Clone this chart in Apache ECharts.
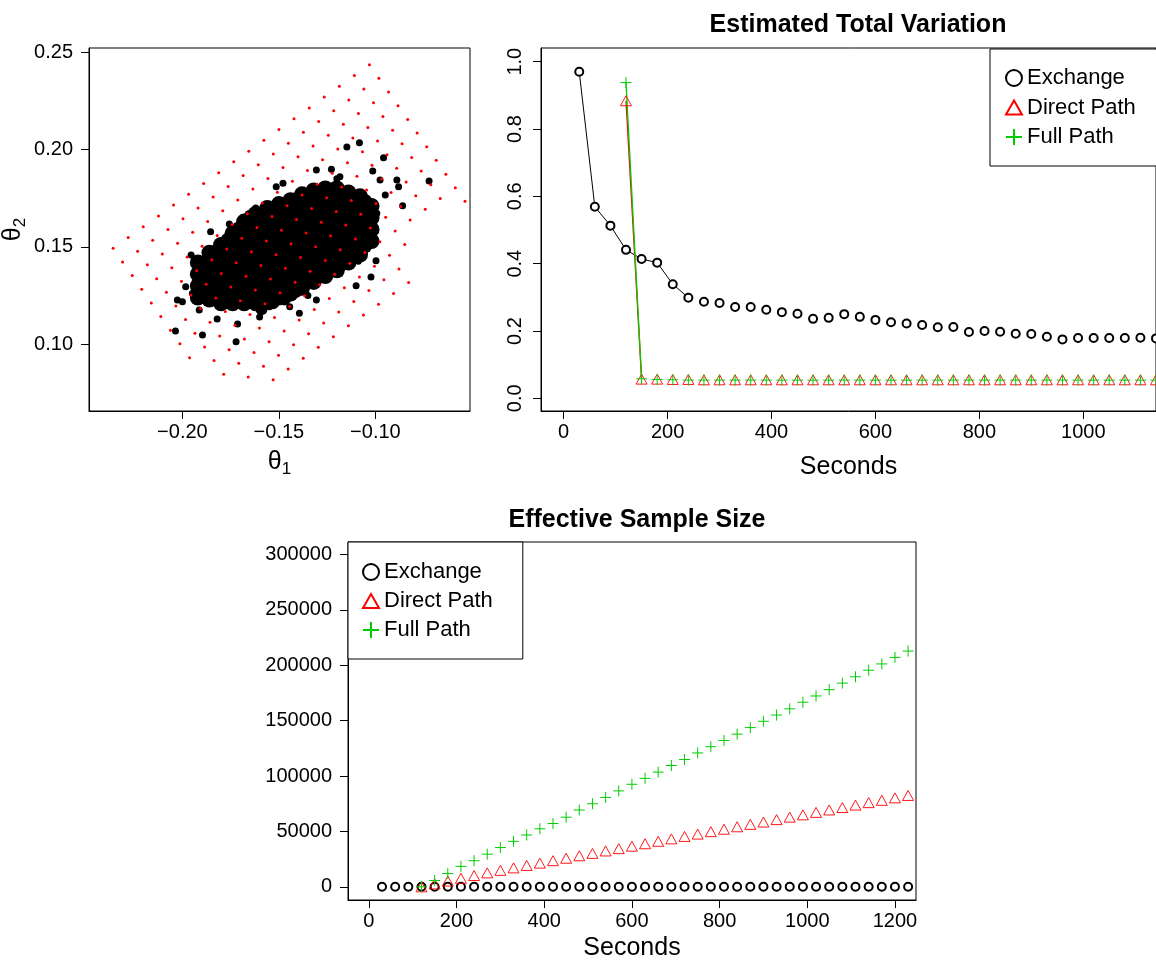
<!DOCTYPE html>
<html><head><meta charset="utf-8">
<script src="https://cdn.jsdelivr.net/npm/echarts@6/dist/echarts.min.js"></script>
<style>html,body{margin:0;padding:0;background:#fff}#c{width:1156px;height:962px}</style>
</head><body><div id="c"></div>
<script>
// ---------- scatter panel data ----------
// dense core of posterior samples (columns by theta1, list of theta2)
const coreX = [-0.192,-0.186,-0.180,-0.174,-0.168,-0.162,-0.156,-0.150,-0.144,-0.138,-0.132,-0.126,-0.120,-0.114,-0.108,-0.102];
const coreY = [
 [0.124,0.130,0.136,0.142],
 [0.123,0.129,0.135,0.141,0.147],
 [0.121,0.127,0.133,0.139,0.145,0.151],
 [0.121,0.127,0.133,0.139,0.145,0.151,0.157],
 [0.121,0.127,0.133,0.139,0.145,0.151,0.157,0.163],
 [0.121,0.127,0.133,0.139,0.145,0.151,0.157,0.163,0.167],
 [0.122,0.128,0.134,0.140,0.146,0.152,0.158,0.164,0.170],
 [0.124,0.130,0.136,0.142,0.148,0.154,0.160,0.166,0.172],
 [0.126,0.132,0.138,0.144,0.150,0.156,0.162,0.168,0.174],
 [0.129,0.135,0.141,0.147,0.153,0.159,0.165,0.171,0.177],
 [0.132,0.138,0.144,0.150,0.156,0.162,0.168,0.174,0.179],
 [0.135,0.141,0.147,0.153,0.159,0.165,0.171,0.177,0.180],
 [0.138,0.144,0.150,0.156,0.162,0.168,0.174,0.180],
 [0.142,0.148,0.154,0.160,0.166,0.172,0.178],
 [0.146,0.152,0.158,0.164,0.170,0.176],
 [0.153,0.159,0.165,0.171]
];
// samples filling gaps between the core columns
const fillSamples = [
 [-0.189,0.127],[-0.189,0.133],[-0.189,0.139],[-0.183,0.124],[-0.183,0.130],[-0.183,0.136],[-0.183,0.142],[-0.183,0.148],
 [-0.177,0.124],[-0.177,0.130],[-0.177,0.136],[-0.177,0.142],[-0.177,0.148],[-0.177,0.154],
 [-0.171,0.124],[-0.171,0.130],[-0.171,0.136],[-0.171,0.142],[-0.171,0.148],[-0.171,0.154],[-0.171,0.160],
 [-0.165,0.124],[-0.165,0.130],[-0.165,0.136],[-0.165,0.142],[-0.165,0.148],[-0.165,0.154],[-0.165,0.160],[-0.165,0.166],
 [-0.159,0.118],[-0.159,0.124],[-0.159,0.130],[-0.159,0.136],[-0.159,0.142],[-0.159,0.148],[-0.159,0.154],[-0.159,0.160],[-0.159,0.166],
 [-0.153,0.121],[-0.153,0.127],[-0.153,0.133],[-0.153,0.139],[-0.153,0.145],[-0.153,0.151],[-0.153,0.157],[-0.153,0.163],[-0.153,0.169],
 [-0.147,0.123],[-0.147,0.129],[-0.147,0.135],[-0.147,0.141],[-0.147,0.147],[-0.147,0.153],[-0.147,0.159],[-0.147,0.165],[-0.147,0.171],
 [-0.141,0.127],[-0.141,0.133],[-0.141,0.139],[-0.141,0.145],[-0.141,0.151],[-0.141,0.157],[-0.141,0.163],[-0.141,0.169],[-0.141,0.175],
 [-0.135,0.132],[-0.135,0.138],[-0.135,0.144],[-0.135,0.150],[-0.135,0.156],[-0.135,0.162],[-0.135,0.168],[-0.135,0.174],
 [-0.129,0.135],[-0.129,0.141],[-0.129,0.147],[-0.129,0.153],[-0.129,0.159],[-0.129,0.165],[-0.129,0.171],[-0.129,0.177],
 [-0.123,0.138],[-0.123,0.144],[-0.123,0.150],[-0.123,0.156],[-0.123,0.162],[-0.123,0.168],[-0.123,0.174],[-0.123,0.180],
 [-0.117,0.141],[-0.117,0.147],[-0.117,0.153],[-0.117,0.159],[-0.117,0.165],[-0.117,0.171],[-0.117,0.177],
 [-0.111,0.145],[-0.111,0.151],[-0.111,0.157],[-0.111,0.163],[-0.111,0.169],[-0.111,0.175],
 [-0.105,0.150],[-0.105,0.156],[-0.105,0.162],[-0.105,0.168],[-0.105,0.174]
];
// outlying samples
const edgeSamples = [
 [-0.2036,0.1068],[-0.1896,0.1047],[-0.1722,0.1013],[-0.1714,0.1104],[-0.1148,0.2013],[-0.1083,0.2035],
 [-0.0958,0.1958],[-0.0722,0.1839],[-0.0859,0.1712],[-0.0880,0.1809],[-0.1023,0.1345],[-0.0997,0.1429],
 [-0.1089,0.1427],[-0.1394,0.1159],[-0.1444,0.1193],[-0.1955,0.1458],[-0.2000,0.1218],[-0.2026,0.1227],
 [-0.1854,0.1578],[-0.1757,0.1618],[-0.1514,0.1809],[-0.1306,0.1895],[-0.1228,0.1899],[-0.1014,0.1890],
 [-0.0889,0.1844],[-0.0949,0.1767],[-0.1948,0.1262],[-0.1983,0.1296],[-0.1913,0.1176],[-0.1549,0.1193],
 [-0.1306,0.1227],[-0.1184,0.1364],[-0.1097,0.1467],[-0.0993,0.1673],[-0.0976,0.1844],[-0.1184,0.1861],
 [-0.1479,0.1827],[-0.1653,0.1638],[-0.1740,0.1570],[-0.1820,0.1130],[-0.1600,0.1140],[-0.1350,0.1250],
 [-0.1050,0.1600],[-0.1200,0.1850],[-0.1400,0.1780],[-0.1900,0.1420],[-0.1620,0.1700],[-0.1100,0.1300]
];
// red grid points (rows)
const redX = [
 [-0.1031,-0.0982,-0.0932,-0.0883,-0.0833,-0.0784,-0.0734,-0.0685,-0.0635,-0.0586,-0.0536],
 [-0.1109,-0.1060,-0.1010,-0.0961,-0.0911,-0.0862,-0.0812,-0.0763,-0.0713,-0.0664],
 [-0.1187,-0.1138,-0.1088,-0.1039,-0.0989,-0.0940,-0.0890,-0.0841,-0.0791,-0.0742],
 [-0.1265,-0.1216,-0.1166,-0.1117,-0.1067,-0.1018,-0.0968,-0.0919,-0.0869,-0.0820],
 [-0.1343,-0.1294,-0.1244,-0.1195,-0.1145,-0.1096,-0.1046,-0.0997,-0.0947,-0.0898,-0.0848],
 [-0.1422,-0.1373,-0.1323,-0.1274,-0.1224,-0.1175,-0.1125,-0.1076,-0.1026,-0.0977,-0.0927,-0.0878,-0.0828],
 [-0.1500,-0.1451,-0.1401,-0.1352,-0.1302,-0.1253,-0.1203,-0.1154,-0.1104,-0.1055,-0.1005,-0.0956,-0.0906],
 [-0.1578,-0.1529,-0.1479,-0.1430,-0.1380,-0.1331,-0.1281,-0.1232,-0.1182,-0.1133,-0.1083,-0.1034,-0.0984],
 [-0.1656,-0.1607,-0.1557,-0.1508,-0.1458,-0.1409,-0.1359,-0.1310,-0.1260,-0.1211,-0.1161,-0.1112,-0.1062],
 [-0.1734,-0.1685,-0.1635,-0.1586,-0.1536,-0.1487,-0.1437,-0.1388,-0.1338,-0.1289,-0.1239,-0.1190,-0.1140],
 [-0.1812,-0.1763,-0.1713,-0.1664,-0.1614,-0.1565,-0.1515,-0.1466,-0.1416,-0.1367,-0.1317,-0.1268,-0.1218],
 [-0.1890,-0.1841,-0.1791,-0.1742,-0.1692,-0.1643,-0.1593,-0.1544,-0.1494,-0.1445,-0.1395,-0.1346,-0.1296],
 [-0.1968,-0.1919,-0.1869,-0.1820,-0.1770,-0.1721,-0.1671,-0.1622,-0.1572,-0.1523,-0.1473,-0.1424,-0.1374],
 [-0.2046,-0.1997,-0.1947,-0.1898,-0.1848,-0.1799,-0.1749,-0.1700,-0.1650,-0.1601,-0.1551,-0.1502,-0.1452],
 [-0.2124,-0.2075,-0.2025,-0.1976,-0.1926,-0.1877,-0.1827,-0.1778,-0.1728,-0.1679,-0.1629,-0.1580,-0.1530],
 [-0.2203,-0.2154,-0.2104,-0.2055,-0.2005,-0.1956,-0.1906,-0.1857,-0.1807,-0.1758,-0.1708,-0.1659],
 [-0.2281,-0.2232,-0.2182,-0.2133,-0.2083,-0.2034,-0.1984,-0.1935,-0.1885,-0.1836,-0.1786],
 [-0.2359,-0.2310,-0.2260,-0.2211,-0.2161,-0.2112,-0.2062,-0.2013,-0.1963]
];
const redY = [
 [0.2436,0.2366,0.2296,0.2225,0.2155,0.2085,0.2015,0.1945,0.1874,0.1804,0.1734],
 [0.2381,0.2311,0.2241,0.2170,0.2100,0.2030,0.1960,0.1890,0.1819,0.1749],
 [0.2325,0.2255,0.2185,0.2114,0.2044,0.1974,0.1904,0.1834,0.1763,0.1693],
 [0.2270,0.2200,0.2130,0.2059,0.1989,0.1919,0.1849,0.1779,0.1708,0.1638],
 [0.2214,0.2144,0.2074,0.2003,0.1933,0.1863,0.1793,0.1723,0.1652,0.1582,0.1512],
 [0.2159,0.2089,0.2019,0.1948,0.1878,0.1808,0.1738,0.1668,0.1597,0.1527,0.1457,0.1387,0.1317],
 [0.2103,0.2033,0.1963,0.1892,0.1822,0.1752,0.1682,0.1612,0.1541,0.1471,0.1401,0.1331,0.1261],
 [0.2048,0.1978,0.1908,0.1837,0.1767,0.1697,0.1627,0.1557,0.1486,0.1416,0.1346,0.1276,0.1206],
 [0.1992,0.1922,0.1852,0.1781,0.1711,0.1641,0.1571,0.1501,0.1430,0.1360,0.1290,0.1220,0.1150],
 [0.1937,0.1867,0.1797,0.1726,0.1656,0.1586,0.1516,0.1446,0.1375,0.1305,0.1235,0.1165,0.1095],
 [0.1881,0.1811,0.1741,0.1670,0.1600,0.1530,0.1460,0.1390,0.1319,0.1249,0.1179,0.1109,0.1039],
 [0.1826,0.1756,0.1686,0.1615,0.1545,0.1475,0.1405,0.1335,0.1264,0.1194,0.1124,0.1054,0.0984],
 [0.1770,0.1700,0.1630,0.1559,0.1489,0.1419,0.1349,0.1279,0.1208,0.1138,0.1068,0.0998,0.0928],
 [0.1715,0.1645,0.1575,0.1504,0.1434,0.1364,0.1294,0.1224,0.1153,0.1083,0.1013,0.0943,0.0873],
 [0.1659,0.1589,0.1519,0.1448,0.1378,0.1308,0.1238,0.1168,0.1097,0.1027,0.0957,0.0887,0.0817],
 [0.1604,0.1534,0.1464,0.1393,0.1323,0.1253,0.1183,0.1113,0.1042,0.0972,0.0902,0.0832],
 [0.1548,0.1478,0.1408,0.1337,0.1267,0.1197,0.1127,0.1057,0.0986,0.0916,0.0846],
 [0.1493,0.1423,0.1353,0.1282,0.1212,0.1142,0.1072,0.1002,0.0931]
];
const scatXTicks = [-0.20,-0.15,-0.10,-0.05];
const scatYTicks = [0.10,0.15,0.20,0.25];

// ---------- time series data ----------
const exchSeconds = [30,60,90,120,150,180,210,240,270,300,330,360,390,420,450,480,510,540,570,600,630,660,690,720,750,780,810,840,870,900,930,960,990,1020,1050,1080,1110,1140,1170,1200,1230];
const pathSeconds = [120,150,180,210,240,270,300,330,360,390,420,450,480,510,540,570,600,630,660,690,720,750,780,810,840,870,900,930,960,990,1020,1050,1080,1110,1140,1170,1200,1230];
const tvExchange = [0.970,0.569,0.513,0.441,0.414,0.403,0.339,0.299,0.287,0.283,0.271,0.271,0.263,0.256,0.251,0.236,0.239,0.250,0.242,0.233,0.226,0.222,0.218,0.211,0.212,0.197,0.200,0.198,0.192,0.191,0.183,0.175,0.179,0.179,0.179,0.179,0.180,0.178,0.177,0.176,0.175];
const tvDirect = [0.884,0.057,0.057,0.056,0.056,0.055,0.055,0.055,0.055,0.055,0.055,0.055,0.055,0.055,0.055,0.055,0.055,0.055,0.055,0.055,0.055,0.055,0.055,0.055,0.055,0.055,0.055,0.055,0.055,0.055,0.055,0.055,0.055,0.055,0.055,0.055,0.055,0.055];
const tvFull = [0.938,0.058,0.056,0.055,0.054,0.054,0.054,0.054,0.054,0.054,0.054,0.054,0.054,0.054,0.054,0.054,0.054,0.054,0.054,0.054,0.054,0.054,0.054,0.054,0.054,0.054,0.054,0.054,0.054,0.054,0.054,0.054,0.054,0.054,0.054,0.054,0.054,0.054];
const essExchange = [0,0,0,0,0,0,0,0,0,0,0,0,0,0,0,0,0,0,0,0,0,0,0,0,0,0,0,0,0,0,0,0,0,0,0,0,0,0,0,0,0];
const essDirect = [0,2600,5200,7700,10200,12600,14900,17100,19300,21400,23600,25800,28000,30200,32400,34500,36700,38900,41100,43300,45500,47600,49800,52000,54200,56400,58500,60700,62900,65000,67200,69400,71600,73800,76000,78100,80300,82500];
const essFull = [0,5700,11960,18480,23560,29470,35450,41070,46780,52410,57150,62860,69380,75000,80720,86610,92590,97950,103580,109560,114920,120900,126530,132150,137860,143760,149470,155100,160720,166700,172330,178040,183940,189650,195550,201260,207150,212870];
const secTicksTV = [0,200,400,600,800,1000];
const secTicksESS = [0,200,400,600,800,1000,1200];
const tvTicks = [0,0.2,0.4,0.6,0.8,1.0];
const essTicks = [0,50000,100000,150000,200000,250000,300000];
const legendNames = ['Exchange','Direct Path','Full Path'];

// ---------- build ----------
const FONT = 'Liberation Sans, Arial, sans-serif';
const RED = '#FF0000', GREEN = '#00CD00';
const PLUS = 'path://M0,5L10,5M5,0L5,10';
const TRI = 'path://M5,0L10,8.7L0,8.7Z';
const zip = (xs, ys) => xs.map((x,i)=>[x, ys[i]]);
const coreData = [];
coreX.forEach((x,i)=>coreY[i].forEach(y=>coreData.push([x,y])));
const redData = [];
redX.forEach((row,i)=>row.forEach((x,j)=>redData.push([x, redY[i][j]])));
const minus = v => String(v).replace('-', '\u2212');

function baseX(gi, min, max, ticks, fmt, extra, margin){
  return Object.assign({type:'value', gridIndex:gi, min, max, splitLine:{show:false},
    axisLine:{show:true, onZero:false, lineStyle:{color:'#000', width:1}},
    axisTick:{show:true, inside:false, length:8, customValues:ticks, lineStyle:{color:'#000'}},
    axisLabel:{customValues:ticks, color:'#000', fontSize:20, fontFamily:FONT, margin:margin||11, formatter:fmt}}, extra||{});
}
const grids = [
  {left:88, top:48, width:382, height:363, show:true, borderColor:'#000', borderWidth:1},
  {left:541, top:48, width:624, height:363, show:true, borderColor:'#000', borderWidth:1},
  {left:348, top:542, width:568, height:362, show:true, borderColor:'#000', borderWidth:1}
];
const legendCommon = {data:legendNames, orient:'vertical', itemWidth:16, itemHeight:16,
  textStyle:{fontSize:22, color:'#000', fontFamily:FONT}, borderColor:'#000', borderWidth:1,
  borderRadius:0, backgroundColor:'#fff', selectedMode:false};
const option = {
  animation:false,
  backgroundColor:'#fff',
  textStyle:{fontFamily:FONT},
  title:[
    {text:'Estimated Total Variation', left:853, top:8, textAlign:'center', textStyle:{fontSize:25, fontWeight:'bold', color:'#000', fontFamily:FONT}},
    {text:'Effective Sample Size', left:632, top:503, textAlign:'center', textStyle:{fontSize:25, fontWeight:'bold', color:'#000', fontFamily:FONT}}
  ],
  grid: grids,
  legend:[
    Object.assign({left:990, top:49, padding:[18,60,18,15], itemGap:7.5}, legendCommon),
    Object.assign({left:348, top:542, padding:[19,30,18,14], itemGap:7}, legendCommon)
  ],
  xAxis:[
    baseX(0, -0.2484, -0.0510, scatXTicks, v=>minus(v.toFixed(2)),
      {name:'{a|θ}{b|1}', nameLocation:'middle', nameGap:36, nameTextStyle:{rich:{a:{fontSize:25,color:'#000',fontFamily:FONT}, b:{fontSize:17,color:'#000',fontFamily:FONT,padding:[14,0,0,0]}}}}),
    baseX(1, -43.6, 1140, secTicksTV, v=>String(v),
      {name:'Seconds', nameLocation:'middle', nameGap:44, nameTextStyle:{fontSize:25, color:'#000', fontFamily:FONT}}),
    baseX(2, -47.6, 1248, secTicksESS, v=>String(v),
      {name:'Seconds', nameLocation:'middle', nameGap:36, nameTextStyle:{fontSize:25, color:'#000', fontFamily:FONT}})
  ],
  yAxis:[
    baseX(0, 0.0657, 0.2522, scatYTicks, v=>v.toFixed(2),
      {name:'{a|θ}{b|2}', nameLocation:'middle', nameGap:60, nameRotate:90, nameTextStyle:{rich:{a:{fontSize:25,color:'#000',fontFamily:FONT}, b:{fontSize:17,color:'#000',fontFamily:FONT,padding:[14,0,0,0]}}}}, 16),
    baseX(1, -0.0377, 1.0407, tvTicks, v=>v.toFixed(1), {axisLabel:{customValues:tvTicks, color:'#000', fontSize:20, fontFamily:FONT, margin:16, rotate:90, formatter:v=>v.toFixed(1)}}),
    baseX(2, -11900, 311350, essTicks, v=>String(v), null, 16)
  ],
  series:[
    {type:'scatter', xAxisIndex:0, yAxisIndex:0, data:coreData, symbolSize:16, itemStyle:{color:'#000', opacity:1}, silent:true},
    {type:'scatter', xAxisIndex:0, yAxisIndex:0, data:fillSamples, symbolSize:12, itemStyle:{color:'#000', opacity:1}, silent:true},
    {type:'scatter', xAxisIndex:0, yAxisIndex:0, data:edgeSamples, symbolSize:7, itemStyle:{color:'#000', opacity:1}, silent:true},
    {type:'scatter', xAxisIndex:0, yAxisIndex:0, data:redData, symbolSize:3, itemStyle:{color:RED, opacity:1}, silent:true, z:5},

    {type:'line', xAxisIndex:1, yAxisIndex:1, data:zip(exchSeconds.slice(0,8), tvExchange.slice(0,8)), showSymbol:false, lineStyle:{color:'#000', width:1}, silent:true},
    {type:'line', xAxisIndex:1, yAxisIndex:1, data:zip(pathSeconds.slice(0,2), tvDirect.slice(0,2)), showSymbol:false, lineStyle:{color:RED, width:1.3}, silent:true},
    {type:'line', xAxisIndex:1, yAxisIndex:1, data:zip(pathSeconds.slice(0,2), tvFull.slice(0,2)), showSymbol:false, lineStyle:{color:GREEN, width:1.3}, silent:true},
    {name:'Exchange', type:'scatter', xAxisIndex:1, yAxisIndex:1, data:zip(exchSeconds, tvExchange), symbol:'emptyCircle', symbolSize:8, itemStyle:{color:'#000', borderWidth:0.9, opacity:1}, z:4},
    {name:'Direct Path', type:'scatter', xAxisIndex:1, yAxisIndex:1, data:zip(pathSeconds, tvDirect), symbol:TRI, symbolSize:[11,10], itemStyle:{color:'rgba(0,0,0,0)', borderColor:RED, borderWidth:0.9, opacity:1}, z:4},
    {name:'Full Path', type:'scatter', xAxisIndex:1, yAxisIndex:1, data:zip(pathSeconds, tvFull), symbol:PLUS, symbolSize:11, itemStyle:{color:'rgba(0,0,0,0)', borderColor:GREEN, borderWidth:1, opacity:1}, z:4},

    {name:'Exchange', type:'scatter', xAxisIndex:2, yAxisIndex:2, data:zip(exchSeconds, essExchange), symbol:'emptyCircle', symbolSize:8, itemStyle:{color:'#000', borderWidth:0.9, opacity:1}, z:4},
    {name:'Direct Path', type:'scatter', xAxisIndex:2, yAxisIndex:2, data:zip(pathSeconds, essDirect), symbol:TRI, symbolSize:[11,10], itemStyle:{color:'rgba(0,0,0,0)', borderColor:RED, borderWidth:0.9, opacity:1}, z:4},
    {name:'Full Path', type:'scatter', xAxisIndex:2, yAxisIndex:2, data:zip(pathSeconds, essFull), symbol:PLUS, symbolSize:11, itemStyle:{color:'rgba(0,0,0,0)', borderColor:GREEN, borderWidth:1, opacity:1}, z:4}
  ]
};
const chart = echarts.init(document.getElementById('c'), null, {renderer:'canvas'});
chart.setOption(option);
</script></body></html>
